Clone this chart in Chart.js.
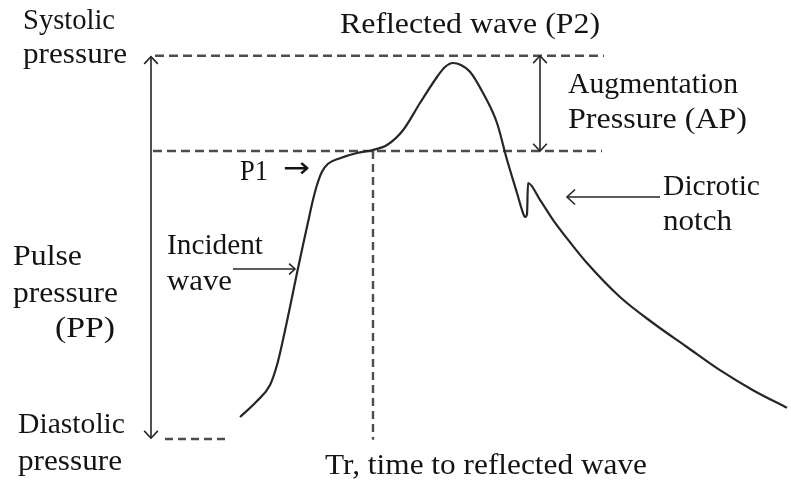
<!DOCTYPE html>
<html><head><meta charset="utf-8">
<script src="https://cdn.jsdelivr.net/npm/chart.js@4"></script>
<style>html,body{margin:0;padding:0;background:#fff}#wrap{width:791px;height:481px;position:relative}</style>
</head><body><div id="wrap"><canvas id="c"></canvas></div>
<script>
// Pulse waveform: time (ms) vs pressure (mmHg)
const waveTime = [3, 28.5, 48, 58.5, 67.5, 78, 88.5, 97.5, 105, 112.5, 118.5, 126, 135, 153, 178.5, 201, 223.5, 247.5, 273, 298.5, 310.5, 322.5, 334.5, 348, 367.5, 388.5, 403.5, 418.5, 427.5, 430.5, 433.5, 435, 453, 472.5, 498, 523.5, 573, 622.5, 673.5, 723, 772.5, 823.5];
const wavePressure = [82.75, 84.75, 86.75, 89.25, 92.4, 96.5, 100.75, 104.25, 107.1, 109.9, 111.75, 113.4, 114.4, 115.1, 115.75, 116.1, 116.75, 118.6, 122, 125.25, 126.5, 127, 126.75, 125.9, 123.25, 119.5, 114.9, 110.75, 108.25, 107.75, 108.1, 112, 109.9, 107.4, 104.6, 102, 97.75, 94.5, 91.5, 88.6, 86.1, 83.9];
// Reference levels (mmHg) and times (ms)
const systolicP = 127.9;
const p1P = 116;
const diastolicP = 80;
const trTime = 202.5;
const ppArrowTime = -130.5;
const apArrowTime = 453;
const incidentArrow = {t0: -7.5, t1: 85.5, p: 101.25};
const notchArrow = {t0: 633, t1: 493.5, p: 110.25};

const waveData = waveTime.map((t, i) => ({x: t, y: wavePressure[i]}));
const dashColor = '#4d4d4d';
const lineColor = '#262626';

function seg(data, opts) {
  return Object.assign({data, showLine: true, pointRadius: 0, borderWidth: 2, borderColor: dashColor, fill: false}, opts);
}

const datasets = [
  seg(waveData, {borderColor: lineColor, borderWidth: 2.2, cubicInterpolationMode: 'monotone'}),
  seg([{x: -124.5, y: systolicP}, {x: 549, y: systolicP}], {borderDash: [9, 5], borderWidth: 2.4}),
  seg([{x: -127.5, y: p1P}, {x: 546, y: p1P}], {borderDash: [9, 5], borderWidth: 2.4}),
  seg([{x: -109.5, y: diastolicP}, {x: -15, y: diastolicP}], {borderDash: [8, 5], borderWidth: 2.4}),
  seg([{x: trTime, y: p1P}, {x: trTime, y: diastolicP - 0.1}], {borderDash: [8, 5], borderWidth: 2.4}),
  seg([{x: ppArrowTime, y: systolicP - 0.1}, {x: ppArrowTime, y: diastolicP + 0.1}], {borderColor: lineColor, borderWidth: 1.6, arrow: 'both'}),
  seg([{x: apArrowTime, y: systolicP}, {x: apArrowTime, y: p1P}], {borderColor: lineColor, borderWidth: 1.6, arrow: 'both'}),
  seg([{x: incidentArrow.t0, y: incidentArrow.p}, {x: incidentArrow.t1, y: incidentArrow.p}], {borderColor: lineColor, borderWidth: 1.6, arrow: 'end', headLen: 8}),
  seg([{x: notchArrow.t0, y: notchArrow.p}, {x: notchArrow.t1, y: notchArrow.p}], {borderColor: lineColor, borderWidth: 1.6, arrow: 'end', headLen: 11})
];

const serif = '"Liberation Serif", "Times New Roman", serif';
const labels = [
  {text: 'Systolic', x: 23, y: 29, w: 92},
  {text: 'pressure', x: 23, y: 63, w: 104},
  {text: 'Reflected wave (P2)', x: 340, y: 33, w: 260},
  {text: 'Augmentation', x: 568, y: 93, w: 170},
  {text: 'Pressure (AP)', x: 568, y: 128, w: 179},
  {text: 'Dicrotic', x: 663, y: 195, w: 97},
  {text: 'notch', x: 663, y: 230, w: 69},
  {text: 'P1', x: 240, y: 180, w: 28},
  {text: '→', x: 283, y: 177, w: 27, size: 28, family: '"DejaVu Sans"'},
  {text: 'Incident', x: 167, y: 254, w: 96},
  {text: 'wave', x: 167, y: 290, w: 65},
  {text: 'Pulse', x: 13, y: 265, w: 69},
  {text: 'pressure', x: 13, y: 302, w: 105},
  {text: '(PP)', x: 55, y: 337, w: 60},
  {text: 'Diastolic', x: 18, y: 433, w: 107},
  {text: 'pressure', x: 18, y: 470, w: 104},
  {text: 'Tr, time to reflected wave', x: 325, y: 474, w: 322}
];

const arrowPlugin = {
  id: 'arrows',
  afterDatasetsDraw(chart) {
    const ctx = chart.ctx;
    chart.data.datasets.forEach((ds, i) => {
      if (!ds.arrow) return;
      const pts = chart.getDatasetMeta(i).data;
      const L = ds.headLen || 10;
      const head = (tip, from) => {
        const a = Math.atan2(tip.y - from.y, tip.x - from.x);
        ctx.beginPath();
        ctx.moveTo(tip.x - L * Math.cos(a - 0.75), tip.y - L * Math.sin(a - 0.75));
        ctx.lineTo(tip.x, tip.y);
        ctx.lineTo(tip.x - L * Math.cos(a + 0.75), tip.y - L * Math.sin(a + 0.75));
        ctx.stroke();
      };
      ctx.save();
      ctx.strokeStyle = ds.borderColor;
      ctx.lineWidth = ds.borderWidth;
      ctx.setLineDash([]);
      const p0 = pts[0], p1 = pts[pts.length - 1];
      head(p1, p0);
      if (ds.arrow === 'both') head(p0, p1);
      ctx.restore();
    });
  }
};

const textPlugin = {
  id: 'texts',
  afterDraw(chart) {
    const ctx = chart.ctx;
    ctx.save();
    ctx.fillStyle = '#141414';
    ctx.textBaseline = 'alphabetic';
    ctx.textAlign = 'left';
    labels.forEach(l => {
      ctx.font = (l.size || 29) + 'px ' + (l.family || serif);
      const m = ctx.measureText(l.text).width;
      const s = l.w / m;
      ctx.save();
      ctx.translate(l.x, l.y);
      ctx.scale(s, 1);
      ctx.fillText(l.text, 0, 0);
      ctx.restore();
    });
    ctx.restore();
  }
};

new Chart(document.getElementById('c'), {
  type: 'scatter',
  data: {datasets},
  options: {
    responsive: true,
    maintainAspectRatio: false,
    animation: false,
    events: [],
    layout: {padding: 0},
    plugins: {legend: {display: false}, tooltip: {enabled: false}},
    scales: {
      x: {type: 'linear', min: -357, max: 829.5, display: false},
      y: {type: 'linear', min: 74.75, max: 134.875, display: false}
    }
  },
  plugins: [arrowPlugin, textPlugin]
});
</script>
</body></html>
